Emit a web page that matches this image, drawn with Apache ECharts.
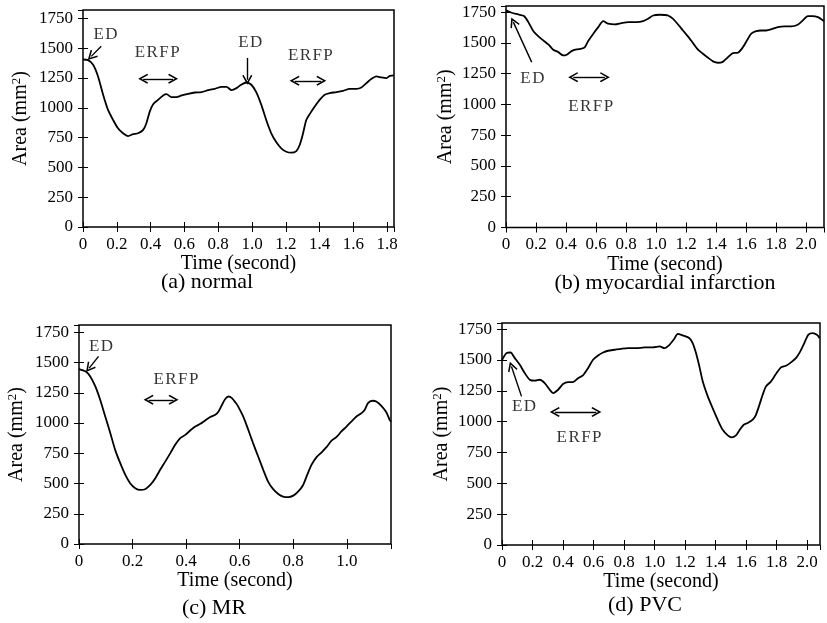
<!DOCTYPE html>
<html>
<head>
<meta charset="utf-8">
<title>Area curves</title>
<script src="https://cdn.jsdelivr.net/npm/echarts@6/dist/echarts.min.js"></script>
<style>
html, body { margin: 0; padding: 0; background: #fff; }
#chart { width: 827px; height: 623px; }
</style>
</head>
<body>
<div id="chart"></div>
<script>
// (a) normal
var timeA = [0, 0.03, 0.06, 0.089, 0.119, 0.148, 0.178, 0.207, 0.237, 0.267, 0.296, 0.326, 0.356, 0.375, 0.395, 0.415, 0.444, 0.474, 0.494, 0.523, 0.553, 0.583, 0.622, 0.662, 0.701, 0.741, 0.780, 0.820, 0.849, 0.879, 0.908, 0.936, 0.966, 0.996, 1.025, 1.055, 1.084, 1.114, 1.144, 1.173, 1.203, 1.233, 1.262, 1.282, 1.302, 1.321, 1.345, 1.371, 1.400, 1.430, 1.460, 1.499, 1.539, 1.578, 1.618, 1.647, 1.677, 1.707, 1.736, 1.766, 1.796, 1.815, 1.84];
var areaA = [1405, 1400, 1361, 1263, 1109, 982, 898, 828, 786, 763, 778, 786, 814, 870, 968, 1030, 1066, 1103, 1114, 1089, 1089, 1103, 1117, 1128, 1131, 1148, 1159, 1176, 1176, 1148, 1165, 1193, 1212, 1193, 1131, 1024, 898, 786, 710, 660, 631, 623, 637, 688, 786, 898, 955, 1010, 1066, 1109, 1123, 1131, 1142, 1159, 1159, 1170, 1207, 1243, 1263, 1254, 1249, 1268, 1271];
var labelsA = [['ED', 0.133, 1614], ['ERFP', 0.439, 1464], ['ED', 0.99, 1551], ['ERFP', 1.345, 1439]];
var arrowsA = [[0.108, 1515, 0.049, 1431, false], [0.356, 1243, 0.533, 1243, true], [0.972, 1418, 0.972, 1235, false], [1.252, 1226, 1.410, 1226, true]];

// (b) myocardial infarction
var timeB = [0, 0.038, 0.082, 0.12, 0.149, 0.182, 0.216, 0.249, 0.282, 0.315, 0.349, 0.382, 0.404, 0.437, 0.470, 0.504, 0.526, 0.548, 0.582, 0.615, 0.648, 0.681, 0.726, 0.770, 0.815, 0.870, 0.914, 0.947, 0.981, 1.025, 1.058, 1.080, 1.114, 1.147, 1.180, 1.213, 1.247, 1.280, 1.313, 1.347, 1.380, 1.413, 1.442, 1.480, 1.513, 1.546, 1.580, 1.613, 1.635, 1.668, 1.701, 1.735, 1.768, 1.812, 1.857, 1.901, 1.945, 1.979, 2.012, 2.045, 2.079, 2.107, 2.12];
var areaB = [1764, 1745, 1731, 1718, 1669, 1596, 1553, 1520, 1488, 1445, 1425, 1398, 1404, 1433, 1447, 1453, 1466, 1515, 1575, 1628, 1677, 1656, 1650, 1661, 1669, 1669, 1677, 1696, 1723, 1729, 1727, 1723, 1696, 1650, 1601, 1553, 1498, 1445, 1412, 1380, 1350, 1339, 1344, 1385, 1417, 1420, 1466, 1534, 1575, 1596, 1601, 1601, 1610, 1628, 1634, 1634, 1648, 1683, 1718, 1718, 1709, 1688, 1675];
var labelsB = [['ED', 0.176, 1209], ['ERFP', 0.565, 986]];
var arrowsB = [[0.171, 1344, 0.049, 1669, false], [0.448, 1222, 0.659, 1222, true]];

// (c) MR
var timeC = [0, 0.024, 0.042, 0.061, 0.079, 0.098, 0.117, 0.135, 0.154, 0.173, 0.191, 0.210, 0.229, 0.247, 0.266, 0.285, 0.303, 0.322, 0.341, 0.359, 0.378, 0.397, 0.415, 0.434, 0.453, 0.471, 0.490, 0.509, 0.521, 0.534, 0.546, 0.558, 0.571, 0.586, 0.594, 0.613, 0.632, 0.650, 0.669, 0.688, 0.706, 0.725, 0.744, 0.762, 0.781, 0.800, 0.818, 0.837, 0.852, 0.868, 0.887, 0.905, 0.924, 0.943, 0.961, 0.980, 0.999, 1.017, 1.036, 1.055, 1.067, 1.079, 1.096, 1.110, 1.129, 1.148, 1.160, 1.165];
var areaC = [1446, 1427, 1385, 1302, 1192, 1054, 916, 778, 668, 571, 502, 461, 447, 453, 488, 544, 613, 681, 751, 820, 875, 902, 938, 971, 993, 1021, 1049, 1068, 1095, 1151, 1198, 1219, 1206, 1165, 1137, 1054, 944, 834, 723, 613, 516, 453, 414, 392, 387, 400, 433, 488, 571, 654, 718, 756, 800, 855, 883, 930, 971, 1012, 1054, 1082, 1109, 1165, 1184, 1178, 1142, 1087, 1026, 1010];
var labelsC = [['ED', 0.082, 1633], ['ERFP', 0.362, 1358]];
var arrowsC = [[0.073, 1551, 0.038, 1454, false], [0.26, 1192, 0.353, 1192, true]];

// (d) PVC
var timeD = [0, 0.029, 0.056, 0.084, 0.117, 0.149, 0.182, 0.215, 0.248, 0.280, 0.313, 0.335, 0.368, 0.400, 0.433, 0.466, 0.499, 0.531, 0.564, 0.597, 0.630, 0.663, 0.695, 0.739, 0.783, 0.826, 0.881, 0.936, 0.990, 1.034, 1.065, 1.098, 1.130, 1.152, 1.185, 1.229, 1.250, 1.272, 1.294, 1.316, 1.349, 1.381, 1.414, 1.447, 1.480, 1.506, 1.534, 1.556, 1.585, 1.611, 1.644, 1.665, 1.688, 1.709, 1.731, 1.764, 1.796, 1.829, 1.862, 1.895, 1.927, 1.956, 1.982, 2.008, 2.037, 2.065, 2.083];
var areaD = [1500, 1556, 1561, 1515, 1461, 1394, 1340, 1332, 1340, 1313, 1259, 1232, 1259, 1305, 1321, 1321, 1353, 1375, 1434, 1502, 1537, 1561, 1575, 1583, 1591, 1596, 1596, 1602, 1602, 1610, 1596, 1623, 1672, 1712, 1699, 1677, 1637, 1556, 1448, 1327, 1205, 1110, 1016, 934, 889, 873, 889, 929, 975, 989, 1016, 1056, 1137, 1218, 1286, 1327, 1386, 1440, 1453, 1481, 1515, 1570, 1637, 1704, 1718, 1704, 1677];
var labelsD = [['ED', 0.144, 1124], ['ERFP', 0.505, 875]];
var arrowsD = [[0.128, 1205, 0.062, 1448, false], [0.346, 1078, 0.619, 1078, true]];

var serif = '"Liberation Serif", "Times New Roman", serif';
// open V arrow head, tip at the top
var arrowHead = 'path://M5,0 L10,8.5 L8.8,9.4 L5,3 L1.2,9.4 L0,8.5 Z';

var panels = [
    {time: timeA, area: areaA, labels: labelsA, arrows: arrowsA, xMax: 1.84, yMax: 1820,
     grid: {left: 83, top: 10, width: 311, height: 217}, caption: '(a) normal', cap: [207, 271], xGap: 18, yGap: 52},
    {time: timeB, area: areaB, labels: labelsB, arrows: arrowsB, xMax: 2.12, yMax: 1800,
     grid: {left: 506, top: 6, width: 318, height: 221.5}, caption: '(b) myocardial infarction', cap: [665, 272], xGap: 18, yGap: 50},
    {time: timeC, area: areaC, labels: labelsC, arrows: arrowsC, xMax: 1.165, yMax: 1810,
     grid: {left: 79, top: 325, width: 312, height: 219}, caption: '(c) MR', cap: [214, 597], xGap: 22, yGap: 52},
    {time: timeD, area: areaD, labels: labelsD, arrows: arrowsD, xMax: 2.085, yMax: 1800,
     grid: {left: 502, top: 323, width: 318, height: 222}, caption: '(d) PVC', cap: [645, 594], xGap: 24, yGap: 50}
];

function xLabel(v) {
    if (Math.abs(v * 5 - Math.round(v * 5)) > 1e-6) return '';
    if (v === 0) return '0';
    return v.toFixed(1);
}
function yLabel(v) {
    return v % 250 === 0 ? String(v) : '';
}
// letters of the annotations are spread apart a little
function spaced(s) {
    return s.split('').join('\u200A');
}

var option = {
    animation: false,
    backgroundColor: '#fff',
    title: [],
    grid: [],
    xAxis: [],
    yAxis: [],
    series: []
};

panels.forEach(function (p, i) {
    option.grid.push({
        left: p.grid.left, top: p.grid.top, width: p.grid.width, height: p.grid.height,
        show: true, borderColor: '#000', borderWidth: 1.5, backgroundColor: 'transparent'
    });
    option.title.push({
        text: p.caption, left: p.cap[0], top: p.cap[1], textAlign: 'center', padding: 0,
        textStyle: {fontFamily: serif, fontSize: 22, fontWeight: 'normal', color: '#000'}
    });
    var tick = {show: true, inside: true, length: 5, lineStyle: {color: '#000', width: 1}};
    option.xAxis.push({
        type: 'value', gridIndex: i, position: 'bottom', min: 0, max: p.xMax, interval: 0.2,
        axisLine: {show: false}, axisTick: tick, splitLine: {show: false},
        axisLabel: {formatter: xLabel, margin: 9, fontFamily: serif, fontSize: 17, color: '#000', showMaxLabel: false},
        name: 'Time (second)', nameLocation: 'middle', nameGap: p.xGap,
        nameTextStyle: {fontFamily: serif, fontSize: 20, color: '#000'}
    });
    option.xAxis.push({
        type: 'value', gridIndex: i, position: 'top', min: 0, max: p.xMax, interval: 0.2,
        axisLine: {show: false}, axisTick: tick, splitLine: {show: false}, axisLabel: {show: false}
    });
    option.yAxis.push({
        type: 'value', gridIndex: i, position: 'left', min: 0, max: p.yMax, interval: 250,
        axisLine: {show: false}, axisTick: tick, splitLine: {show: false},
        axisLabel: {formatter: yLabel, margin: 10, fontFamily: serif, fontSize: 17, color: '#000', showMaxLabel: false},
        name: 'Area (mm{sup|2})', nameLocation: 'middle', nameGap: p.yGap, nameRotate: 90,
        nameTextStyle: {fontFamily: serif, fontSize: 20, color: '#000',
            rich: {sup: {fontFamily: serif, fontSize: 13, color: '#000', verticalAlign: 'top', padding: [0, 0, 8, 0]}}}
    });
    option.yAxis.push({
        type: 'value', gridIndex: i, position: 'right', min: 0, max: p.yMax, interval: 250,
        axisLine: {show: false}, axisTick: tick, splitLine: {show: false}, axisLabel: {show: false}
    });

    option.series.push({
        type: 'line', xAxisIndex: 2 * i, yAxisIndex: 2 * i,
        data: p.time.map(function (t, k) { return [t, p.area[k]]; }),
        showSymbol: false, smooth: 0.25, silent: true,
        lineStyle: {color: '#000', width: 1.8}
    });

    option.series.push({
        type: 'scatter', xAxisIndex: 2 * i, yAxisIndex: 2 * i, silent: true,
        symbolSize: 1, itemStyle: {color: 'rgba(0,0,0,0)'},
        data: p.labels.map(function (l) { return [l[1], l[2], l[0]]; }),
        label: {
            show: true, position: 'inside', color: '#000',
            fontFamily: serif, fontSize: 17,
            formatter: function (d) { return spaced(d.data[2]); }
        },
        markLine: {
            silent: true, animation: false, symbolSize: 10,
            label: {show: false},
            lineStyle: {color: '#000', width: 1.4, type: 'solid'},
            emphasis: {disabled: true},
            data: p.arrows.map(function (a) {
                return [
                    {coord: [a[0], a[1]], symbol: a[4] ? arrowHead : 'none'},
                    {coord: [a[2], a[3]], symbol: arrowHead}
                ];
            })
        }
    });
});

var myChart = echarts.init(document.getElementById('chart'));
myChart.setOption(option);
</script>
</body>
</html>
